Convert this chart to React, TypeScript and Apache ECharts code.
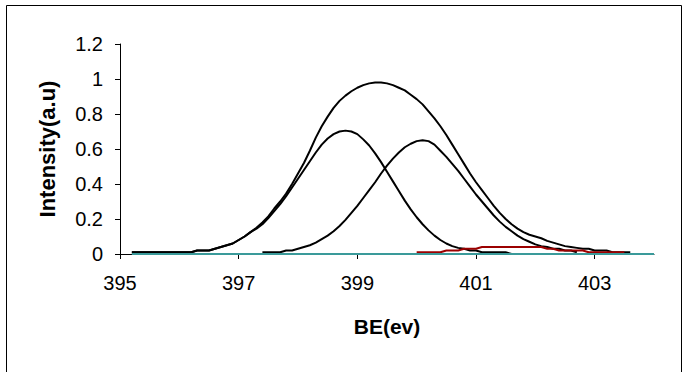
import React, { useEffect, useRef } from "react";
import * as echarts from "echarts";

// Binding energy grid (eV)
const BE = [
  395.2, 395.3, 395.4, 395.5, 395.6, 395.7, 395.8, 395.9, 396.0, 396.1,
  396.2, 396.3, 396.4, 396.5, 396.6, 396.7, 396.8, 396.9, 397.0, 397.1,
  397.2, 397.3, 397.4, 397.5, 397.6, 397.7, 397.8, 397.9, 398.0, 398.1,
  398.2, 398.3, 398.4, 398.5, 398.6, 398.7, 398.8, 398.9, 399.0, 399.1,
  399.2, 399.3, 399.4, 399.5, 399.6, 399.7, 399.8, 399.9, 400.0, 400.1,
  400.2, 400.3, 400.4, 400.5, 400.6, 400.7, 400.8, 400.9, 401.0, 401.1,
  401.2, 401.3, 401.4, 401.5, 401.6, 401.7, 401.8, 401.9, 402.0, 402.1,
  402.2, 402.3, 402.4, 402.5, 402.6, 402.7, 402.8, 402.9, 403.0, 403.1,
  403.2, 403.3, 403.4, 403.5, 403.6,
];

// Envelope (measured sum)
const ENVELOPE = [
  0.01, 0.01, 0.01, 0.01, 0.01, 0.01, 0.01, 0.01, 0.01, 0.01,
  0.01, 0.02, 0.02, 0.02, 0.03, 0.04, 0.05, 0.06, 0.08, 0.10,
  0.125, 0.15, 0.18, 0.215, 0.26, 0.30, 0.345, 0.40, 0.46, 0.52,
  0.59, 0.665, 0.73, 0.785, 0.835, 0.875, 0.905, 0.93, 0.95, 0.965,
  0.975, 0.98, 0.98, 0.975, 0.965, 0.95, 0.935, 0.91, 0.885, 0.855,
  0.815, 0.775, 0.73, 0.68, 0.625, 0.57, 0.515, 0.46, 0.41, 0.365,
  0.32, 0.275, 0.235, 0.20, 0.17, 0.145, 0.125, 0.11, 0.10, 0.09,
  0.075, 0.065, 0.055, 0.045, 0.04, 0.035, 0.03, 0.03, 0.02, 0.02,
  0.02, 0.01, 0.01, 0.01, 0.01,
];

// Component peak 1 (~398.8 eV)
const PEAK1 = [
  0.01, 0.01, 0.01, 0.01, 0.01, 0.01, 0.01, 0.01, 0.01, 0.01,
  0.01, 0.02, 0.02, 0.02, 0.03, 0.04, 0.05, 0.06, 0.08, 0.10,
  0.125, 0.145, 0.17, 0.205, 0.245, 0.285, 0.33, 0.38, 0.43, 0.48,
  0.53, 0.58, 0.625, 0.66, 0.685, 0.70, 0.705, 0.70, 0.685, 0.655,
  0.62, 0.575, 0.525, 0.47, 0.415, 0.36, 0.305, 0.255, 0.21, 0.17,
  0.135, 0.105, 0.08, 0.06, 0.045, 0.035, 0.03, 0.02, 0.02, 0.01,
  0.01, 0.01, 0.01, 0.01, 0, null, null, null, null, null,
  null, null, null, null, null, null, null, null, null, null,
  null, null, null, null, null,
];

// Component peak 2 (~400.1 eV)
const PEAK2 = [
  null, null, null, null, null, null, null, null, null, null,
  null, null, null, null, null, null, null, null, null, null,
  null, null, 0.01, 0.01, 0.01, 0.01, 0.02, 0.02, 0.03, 0.04,
  0.05, 0.065, 0.085, 0.105, 0.13, 0.16, 0.195, 0.235, 0.275, 0.32,
  0.365, 0.41, 0.46, 0.505, 0.545, 0.58, 0.61, 0.63, 0.645, 0.65,
  0.645, 0.625, 0.59, 0.555, 0.515, 0.475, 0.43, 0.385, 0.34, 0.30,
  0.26, 0.22, 0.185, 0.155, 0.13, 0.105, 0.085, 0.07, 0.055, 0.045,
  0.04, 0.03, 0.03, 0.02, 0.02, 0.01, null, null, null, null,
  null, null, null, null, null,
];

// Small satellite component (red)
const SATELLITE = [
  null, null, null, null, null, null, null, null, null, null,
  null, null, null, null, null, null, null, null, null, null,
  null, null, null, null, null, null, null, null, null, null,
  null, null, null, null, null, null, null, null, null, null,
  null, null, null, null, null, null, null, null, 0.01, 0.01,
  0.01, 0.01, 0.01, 0.02, 0.02, 0.02, 0.03, 0.03, 0.03, 0.04,
  0.04, 0.04, 0.04, 0.04, 0.04, 0.04, 0.04, 0.04, 0.04, 0.04,
  0.03, 0.03, 0.02, 0.02, 0.02, 0.02, 0.02, 0.01, 0.01, 0.01,
  0.01, 0.01, 0.01, 0.01, null,
];

// Background line
const BASE_X = [395.2, 404];
const BASE_Y = [0, 0];

const X_TICKS = [395, 397, 399, 401, 403];

function pairs(xs: number[], ys: (number | null)[]) {
  const out: number[][] = [];
  ys.forEach((y, i) => {
    if (y !== null && y !== undefined) out.push([xs[i], y]);
  });
  return out;
}

export default function App() {
  const ref = useRef<HTMLDivElement>(null);
  useEffect(() => {
    const chart = echarts.init(ref.current!, null, { renderer: "svg" });
    const font = "'Liberation Sans', Arial, sans-serif";
    const lineSeries = (name: string, data: number[][], color: string, z: number) => ({
      name,
      type: "line",
      data,
      symbol: "none",
      smooth: false,
      z,
      lineStyle: { color, width: 2 },
    });
    chart.setOption({
      animation: false,
      backgroundColor: "#ffffff",
      textStyle: { fontFamily: font },
      grid: {
        left: 120,
        right: 32,
        top: 44,
        bottom: 118,
        containLabel: false,
        outerBoundsMode: "none",
      },
      xAxis: {
        type: "value",
        min: 395,
        max: 404,
        name: "BE(ev)",
        nameLocation: "middle",
        nameGap: 62,
        nameTextStyle: { fontFamily: font, fontSize: 21, fontWeight: "bold", color: "#000" },
        axisLine: { lineStyle: { color: "#000", width: 1 } },
        axisTick: { show: true, inside: false, length: 5, customValues: X_TICKS, lineStyle: { color: "#000" } },
        axisLabel: { customValues: X_TICKS, margin: 19, fontSize: 20, color: "#000", fontFamily: font },
        splitLine: { show: false },
      },
      yAxis: {
        type: "value",
        min: 0,
        max: 1.2,
        interval: 0.2,
        name: "Intensity(a.u)",
        nameLocation: "middle",
        nameRotate: 90,
        nameGap: 62,
        nameTextStyle: { fontFamily: font, fontSize: 22, fontWeight: "bold", color: "#000" },
        axisLine: { show: true, lineStyle: { color: "#000", width: 1 } },
        axisTick: { show: true, inside: false, length: 5, lineStyle: { color: "#000" } },
        axisLabel: {
          margin: 17,
          fontSize: 20,
          color: "#000",
          fontFamily: font,
          formatter: (v: number) => String(Math.round(v * 10) / 10),
        },
        splitLine: { show: false },
      },
      graphic: [
        {
          type: "rect",
          shape: { x: 6.5, y: 5.5, width: 675, height: 420 },
          style: { fill: "none", stroke: "#000", lineWidth: 1 },
          silent: true,
          z: 0,
        },
      ],
      series: [
        lineSeries("Envelope", pairs(BE, ENVELOPE), "#000000", 2),
        lineSeries("Peak 1", pairs(BE, PEAK1), "#000000", 2),
        lineSeries("Peak 2", pairs(BE, PEAK2), "#000000", 2),
        lineSeries("Satellite", pairs(BE, SATELLITE), "#9b0000", 3),
        lineSeries("Background", pairs(BASE_X, BASE_Y), "#3a9a9a", 4),
      ],
    });
    return () => chart.dispose();
  }, []);
  return (
    <div
      ref={ref}
      style={{ position: "absolute", left: 0, top: 0, width: 686, height: 372, background: "#fff" }}
    />
  );
}
